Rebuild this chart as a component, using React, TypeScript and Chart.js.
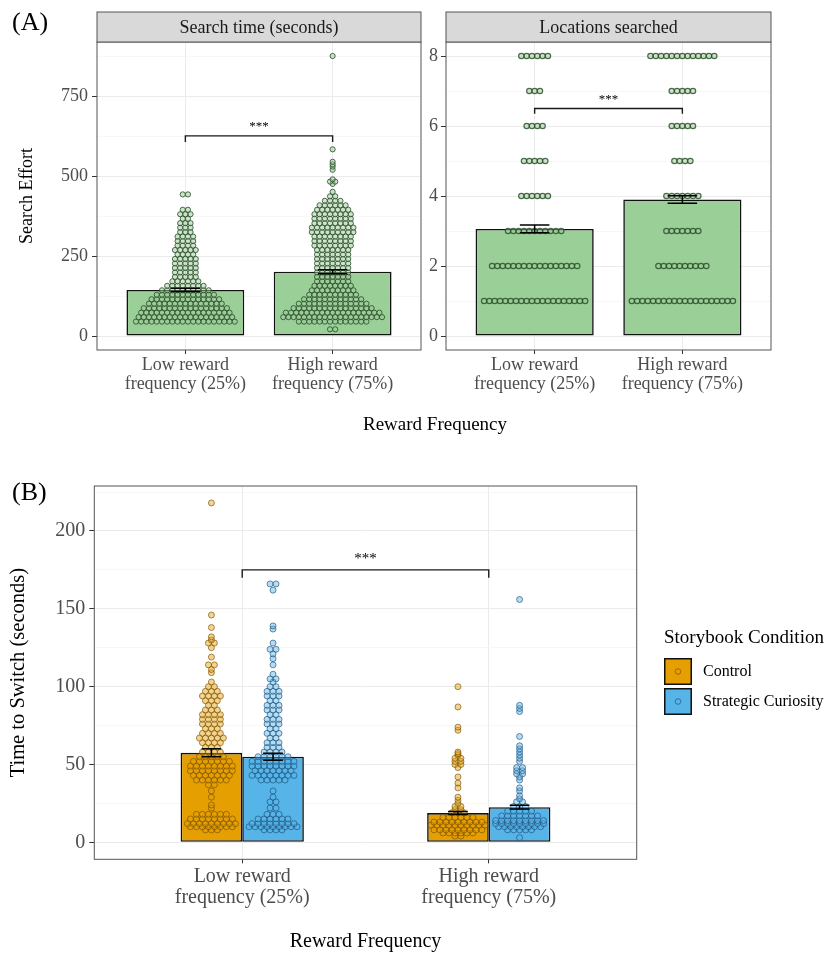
import React, { useEffect, useRef } from "react";
import { Chart, registerables } from "chart.js";

Chart.register(...registerables);

const FONT = "'Liberation Serif', 'Times New Roman', Times, serif";

// ---------------- data ----------------
const rewardCategories = [
  ["Low reward", "frequency (25%)"],
  ["High reward", "frequency (75%)"],
];
const categoryPositions = [1, 2];
const panelATitles = ["Search time (seconds)", "Locations searched"];
const conditionLabels = ["Control", "Strategic Curiosity"];

// Panel A – search time
const searchTimeMeans = [144, 201];
const searchTimeSE = [5, 6];
const searchTimeMajorTicks = [0, 250, 500, 750];
const searchTimeMinorTicks = [125, 375, 625, 875];
const searchTimeRange = [-43.8, 919.8];
const searchTimeBracket = [626, 607];
// beeswarm rows: [value, number of dots]
const searchTimeLowRows: [number, number][] = [
  [45, 20], [59, 19], [73, 18], [87, 17], [101, 15], [115, 14], [129, 12], [143, 10],
  [157, 8], [171, 6], [185, 5], [199, 5], [213, 5], [227, 5], [241, 5], [255, 4],
  [269, 5], [283, 4], [297, 4], [311, 4], [325, 3], [339, 3], [353, 3], [367, 2],
  [381, 3], [395, 2], [443, 2],
];
const searchTimeHighRows: [number, number][] = [
  [21, 2], [45, 14], [59, 20], [73, 19], [87, 16], [101, 14], [115, 12], [129, 10],
  [143, 9], [157, 8], [171, 7], [185, 7], [199, 7], [213, 7], [227, 7], [241, 7],
  [255, 7], [269, 7], [283, 8], [297, 8], [311, 8], [325, 9], [339, 9], [353, 8],
  [367, 8], [381, 8], [395, 7], [409, 6], [423, 4], [437, 2], [451, 1], [476, 1],
  [483, 2], [490, 1], [520, 1], [530, 1], [537, 1], [545, 1], [584, 1], [876, 1],
];

// Panel A – locations searched
const locationsMeans = [3.06, 3.9];
const locationsSE = [0.11, 0.11];
const locationsMajorTicks = [0, 2, 4, 6, 8];
const locationsMinorTicks = [1, 3, 5, 7];
const locationsRange = [-0.4, 8.4];
const locationsBracket = [6.5, 6.35];
const locationsLevels = [1, 2, 3, 4, 5, 6, 7, 8];
const locationsLowCounts = [20, 17, 11, 6, 5, 4, 3, 6];
const locationsHighCounts = [20, 10, 7, 7, 4, 5, 5, 13];

// Panel B – time to switch
const switchControlMeans = [57.5, 18.8];
const switchControlSE = [2.6, 1.0];
const switchCuriosityMeans = [55.0, 22.6];
const switchCuriositySE = [2.3, 1.2];
const switchMajorTicks = [0, 50, 100, 150, 200];
const switchMinorTicks = [25, 75, 125, 175, 225];
const switchRange = [-10.9, 228.9];
const switchBracket = [175, 170];
const switchControlLowRows: [number, number][] = [
  [8, 3], [10, 8], [12, 9], [15, 8], [18, 6], [22, 1], [24, 1], [29, 1], [33, 1], [37, 2],
  [40, 6], [43, 7], [46, 8], [49, 8], [52, 7], [55, 5], [58, 4], [61, 3], [64, 4], [67, 5],
  [70, 4], [73, 3], [76, 4], [79, 4], [82, 4], [85, 3], [88, 2], [91, 3], [94, 4], [97, 3],
  [100, 2], [103, 1], [109, 1], [111, 1], [114, 2], [119, 1], [125, 1], [128, 2], [130, 1],
  [132, 1], [138, 1], [146, 1], [218, 1],
];
const switchCuriosityLowRows: [number, number][] = [
  [8, 4], [10, 9], [12, 8], [15, 6], [18, 3], [22, 2], [26, 2], [29, 1], [33, 1], [40, 5],
  [43, 8], [46, 7], [49, 8], [52, 8], [55, 6], [58, 4], [61, 3], [64, 3], [67, 2], [70, 3],
  [73, 2], [76, 3], [79, 3], [82, 2], [85, 3], [88, 3], [91, 2], [94, 3], [97, 3], [100, 2],
  [103, 1], [105, 2], [108, 1], [114, 1], [118, 1], [121, 1], [124, 2], [128, 1], [137, 1],
  [139, 1], [162, 1], [166, 2],
];
const switchControlHighRows: [number, number][] = [
  [4, 2], [6, 6], [8, 9], [11, 10], [13, 9], [16, 6], [19, 3], [21, 2], [23, 2], [25, 1],
  [27, 1], [29, 1], [35, 1], [38, 1], [42, 1], [48, 1], [50, 2], [52, 2], [54, 2], [56, 1],
  [57, 1], [58, 1], [72, 1], [74, 1], [87, 1], [100, 1],
];
const switchCuriosityHighRows: [number, number][] = [
  [3, 1], [8, 5], [10, 8], [12, 9], [14, 9], [17, 7], [20, 5], [23, 3], [26, 2], [28, 1],
  [30, 1], [33, 1], [35, 1], [40, 1], [42, 1], [44, 2], [46, 2], [48, 2], [52, 1], [54, 1],
  [56, 1], [58, 1], [60, 1], [62, 1], [68, 1], [84, 1], [86, 1], [88, 1], [156, 1],
];

// ---------------- styles ----------------
const GREEN_BAR = "#9BCF98";
const GREEN_DOT_FILL = "rgba(160, 200, 155, 0.5)";
const GREEN_DOT_STROKE = "rgba(35, 75, 35, 0.8)";
const ORANGE = "#E69F00";
const BLUE = "#56B4E9";
const ORANGE_DOT_FILL = "rgba(230, 159, 0, 0.45)";
const ORANGE_DOT_STROKE = "rgba(115, 75, 0, 0.62)";
const BLUE_DOT_FILL = "rgba(86, 180, 233, 0.45)";
const BLUE_DOT_STROKE = "rgba(25, 75, 115, 0.62)";
const TICK_TEXT = "#4D4D4D";

// ---------------- helpers ----------------
function swarm(rows: [number, number][], center: number, spacing: number) {
  const pts: { x: number; y: number }[] = [];
  rows.forEach(([v, n]) => {
    for (let i = 0; i < n; i++) pts.push({ x: center + (i - (n - 1) / 2) * spacing, y: v });
  });
  return pts;
}

function yAxis(o: any) {
  const majors: number[] = o.majors;
  const all = [...o.majors, ...o.minors].sort((a, b) => a - b);
  const isMajor = (c: any) => c && c.tick && majors.includes(c.tick.value);
  return {
    type: "linear",
    min: o.range[0],
    max: o.range[1],
    afterBuildTicks: (s: any) => {
      s.ticks = all.map((v) => ({ value: v }));
    },
    afterFit: (s: any) => {
      s.width = o.width;
    },
    ticks: {
      autoSkip: false,
      padding: o.pad,
      color: TICK_TEXT,
      font: { family: FONT, size: o.fontSize },
      callback: (v: number) => (majors.includes(v) ? String(v) : ""),
    },
    grid: {
      color: (c: any) => (isMajor(c) ? "#EBEBEB" : "#F3F3F3"),
      lineWidth: (c: any) => (isMajor(c) ? 1 : 0.7),
      tickLength: 5,
      tickColor: (c: any) => (isMajor(c) ? "#333333" : "rgba(0,0,0,0)"),
    },
    border: { display: false },
    title: o.title
      ? {
          display: true,
          text: o.title,
          color: "#000",
          font: { family: FONT, size: o.titleSize },
          padding: { top: o.titlePad, bottom: 0 },
        }
      : { display: false },
  };
}

function xAxis(o: any) {
  return {
    type: "linear",
    min: 0.4,
    max: 2.6,
    offset: false,
    afterBuildTicks: (s: any) => {
      s.ticks = categoryPositions.map((v) => ({ value: v }));
    },
    afterFit: (s: any) => {
      s.height = o.height;
    },
    ticks: {
      autoSkip: false,
      maxRotation: 0,
      minRotation: 0,
      padding: o.pad,
      color: TICK_TEXT,
      font: { family: FONT, size: o.fontSize, lineHeight: o.lineHeight },
      callback: (v: number) => rewardCategories[categoryPositions.indexOf(v)],
    },
    grid: { offset: false, color: "#EBEBEB", lineWidth: 1, tickLength: 4, tickColor: "#333333" },
    border: { display: false },
    title: o.title
      ? {
          display: true,
          text: o.title,
          color: "#000",
          font: { family: FONT, size: o.titleSize, lineHeight: 1.1 },
          padding: { top: 0, bottom: 0 },
        }
      : { display: false },
  };
}

const panelBorderPlugin = {
  id: "panelBorder",
  afterDraw(chart: any) {
    const { ctx, chartArea: a } = chart;
    ctx.save();
    ctx.strokeStyle = "#555555";
    ctx.lineWidth = 1;
    ctx.strokeRect(a.left, a.top, a.right - a.left, a.bottom - a.top);
    ctx.restore();
  },
};

function stripPlugin(text: string, top: number) {
  return {
    id: "strip",
    afterDraw(chart: any) {
      const { ctx, chartArea: a } = chart;
      ctx.save();
      ctx.fillStyle = "#D9D9D9";
      ctx.fillRect(a.left, top, a.right - a.left, a.top - top);
      ctx.strokeStyle = "#555555";
      ctx.lineWidth = 1;
      ctx.strokeRect(a.left, top, a.right - a.left, a.top - top);
      ctx.fillStyle = "#1A1A1A";
      ctx.font = `18px ${FONT}`;
      ctx.textAlign = "center";
      ctx.textBaseline = "middle";
      ctx.fillText(text, (a.left + a.right) / 2, (top + a.top) / 2 + 1);
      ctx.restore();
    },
  };
}

function errorBarPlugin(items: { x: number; mean: number; se: number }[], capWidth: number) {
  return {
    id: "errorBars",
    afterDatasetsDraw(chart: any) {
      const { ctx } = chart;
      const xs = chart.scales.x;
      const ys = chart.scales.y;
      ctx.save();
      ctx.strokeStyle = "#000";
      ctx.lineWidth = 1.5;
      items.forEach((it) => {
        const px = xs.getPixelForValue(it.x);
        const half = xs.getPixelForValue(it.x + capWidth / 2) - px;
        const yt = ys.getPixelForValue(it.mean + it.se);
        const yb = ys.getPixelForValue(it.mean - it.se);
        ctx.beginPath();
        ctx.moveTo(px, yt);
        ctx.lineTo(px, yb);
        ctx.moveTo(px - half, yt);
        ctx.lineTo(px + half, yt);
        ctx.moveTo(px - half, yb);
        ctx.lineTo(px + half, yb);
        ctx.stroke();
      });
      ctx.restore();
    },
  };
}

function bracketPlugin(yLine: number, yTick: number, fontSize: number, gap: number) {
  return {
    id: "bracket",
    afterDatasetsDraw(chart: any) {
      const { ctx } = chart;
      const xs = chart.scales.x;
      const ys = chart.scales.y;
      const x1 = xs.getPixelForValue(categoryPositions[0]);
      const x2 = xs.getPixelForValue(categoryPositions[1]);
      const yl = ys.getPixelForValue(yLine);
      const yt = ys.getPixelForValue(yTick);
      ctx.save();
      ctx.strokeStyle = "#1A1A1A";
      ctx.lineWidth = 1.4;
      ctx.beginPath();
      ctx.moveTo(x1, yt);
      ctx.lineTo(x1, yl);
      ctx.lineTo(x2, yl);
      ctx.lineTo(x2, yt);
      ctx.stroke();
      ctx.fillStyle = "#000";
      ctx.font = `${fontSize}px ${FONT}`;
      ctx.textAlign = "center";
      ctx.textBaseline = "alphabetic";
      ctx.fillText("***", (x1 + x2) / 2, yl - gap);
      ctx.restore();
    },
  };
}

const legendPlugin = {
  id: "sideLegend",
  afterDraw(chart: any) {
    const { ctx } = chart;
    const bars = chart.data.datasets.filter((d: any) => d.type === "bar");
    const x0 = 664;
    ctx.save();
    ctx.fillStyle = "#000";
    ctx.font = `19px ${FONT}`;
    ctx.textAlign = "left";
    ctx.textBaseline = "middle";
    ctx.fillText("Storybook Condition", x0, 168);
    bars.forEach((d: any, i: number) => {
      const top = 188 + i * 30;
      ctx.fillStyle = d.backgroundColor;
      ctx.fillRect(x0, top, 28, 27);
      ctx.strokeStyle = "#111";
      ctx.lineWidth = 1.5;
      ctx.strokeRect(x0 + 0.75, top + 0.75, 26.5, 25.5);
      ctx.beginPath();
      ctx.arc(x0 + 14, top + 13.5, 2.8, 0, Math.PI * 2);
      ctx.fillStyle = d.dotFill;
      ctx.fill();
      ctx.strokeStyle = d.dotStroke;
      ctx.lineWidth = 1;
      ctx.stroke();
      ctx.fillStyle = "#000";
      ctx.font = `16px ${FONT}`;
      ctx.fillText(d.label, 703, top + 14);
    });
    ctx.restore();
  },
};

function barData(means: number[], offset: number) {
  return means.map((m, i) => ({ x: categoryPositions[i] + offset, y: m }));
}

function dotDataset(label: string, data: any[], fill: string, stroke: string, r: number, bw = 1) {
  return {
    type: "scatter",
    label,
    data,
    order: 1,
    pointRadius: r,
    pointHoverRadius: r,
    pointBorderWidth: bw,
    backgroundColor: fill,
    borderColor: stroke,
    pointBackgroundColor: fill,
    pointBorderColor: stroke,
  };
}

export default function App() {
  const a1 = useRef<HTMLCanvasElement>(null);
  const a2 = useRef<HTMLCanvasElement>(null);
  const b = useRef<HTMLCanvasElement>(null);

  useEffect(() => {
    const charts: Chart[] = [];
    const common = {
      responsive: false,
      animation: false,
      events: [],
      plugins: { legend: { display: false }, tooltip: { enabled: false } },
    };

    // ---- Panel A, left: search time ----
    const spA = 0.0353;
    charts.push(
      new Chart(a1.current as HTMLCanvasElement, {
        type: "bar",
        data: {
          datasets: [
            {
              type: "bar",
              label: panelATitles[0],
              data: barData(searchTimeMeans, 0),
              backgroundColor: GREEN_BAR,
              borderColor: "#111",
              borderWidth: 1.6,
              borderSkipped: false,
              barPercentage: 0.8,
              categoryPercentage: 1,
              order: 2,
            } as any,
            dotDataset("low", swarm(searchTimeLowRows, categoryPositions[0], spA), GREEN_DOT_FILL, GREEN_DOT_STROKE, 2.6),
            dotDataset("high", swarm(searchTimeHighRows, categoryPositions[1], spA), GREEN_DOT_FILL, GREEN_DOT_STROKE, 2.6),
          ],
        },
        options: {
          ...common,
          layout: { padding: { top: 42, right: 4, bottom: 0, left: 0 } },
          scales: {
            x: xAxis({ height: 90, pad: 1, fontSize: 18, lineHeight: 1.1 }),
            y: yAxis({
              majors: searchTimeMajorTicks,
              minors: searchTimeMinorTicks,
              range: searchTimeRange,
              width: 97,
              pad: 4,
              fontSize: 18,
              title: "Search Effort",
              titleSize: 18,
              titlePad: 16,
            }),
          },
        } as any,
        plugins: [
          panelBorderPlugin,
          stripPlugin(panelATitles[0], 12),
          errorBarPlugin(
            searchTimeMeans.map((m, i) => ({ x: categoryPositions[i], mean: m, se: searchTimeSE[i] })),
            0.2
          ),
          bracketPlugin(searchTimeBracket[0], searchTimeBracket[1], 13, 6),
        ],
      })
    );

    // ---- Panel A, right: locations searched ----
    const spL = 0.036;
    charts.push(
      new Chart(a2.current as HTMLCanvasElement, {
        type: "bar",
        data: {
          datasets: [
            {
              type: "bar",
              label: panelATitles[1],
              data: barData(locationsMeans, 0),
              backgroundColor: GREEN_BAR,
              borderColor: "#111",
              borderWidth: 1.6,
              borderSkipped: false,
              barPercentage: 0.8,
              categoryPercentage: 1,
              order: 2,
            } as any,
            dotDataset(
              "low",
              swarm(locationsLevels.map((l, i) => [l, locationsLowCounts[i]] as [number, number]), categoryPositions[0], spL),
              GREEN_DOT_FILL,
              GREEN_DOT_STROKE,
              2.7,
              1.2
            ),
            dotDataset(
              "high",
              swarm(locationsLevels.map((l, i) => [l, locationsHighCounts[i]] as [number, number]), categoryPositions[1], spL),
              GREEN_DOT_FILL,
              GREEN_DOT_STROKE,
              2.7,
              1.2
            ),
          ],
        },
        options: {
          ...common,
          layout: { padding: { top: 42, right: 65, bottom: 0, left: 0 } },
          scales: {
            x: xAxis({ height: 90, pad: 1, fontSize: 18, lineHeight: 1.1 }),
            y: yAxis({
              majors: locationsMajorTicks,
              minors: locationsMinorTicks,
              range: locationsRange,
              width: 21,
              pad: 3,
              fontSize: 18,
            }),
          },
        } as any,
        plugins: [
          panelBorderPlugin,
          stripPlugin(panelATitles[1], 12),
          errorBarPlugin(
            locationsMeans.map((m, i) => ({ x: categoryPositions[i], mean: m, se: locationsSE[i] })),
            0.2
          ),
          bracketPlugin(locationsBracket[0], locationsBracket[1], 13, 6),
        ],
      })
    );

    // ---- Panel B: time to switch ----
    const spB = 0.0243;
    const dodge = 0.125;
    charts.push(
      new Chart(b.current as HTMLCanvasElement, {
        type: "bar",
        data: {
          datasets: [
            {
              type: "bar",
              label: conditionLabels[0],
              data: barData(switchControlMeans, 0),
              backgroundColor: ORANGE,
              borderColor: "#111",
              borderWidth: 1.6,
              borderSkipped: false,
              barPercentage: 1,
              categoryPercentage: 0.5,
              order: 2,
              dotFill: ORANGE_DOT_FILL,
              dotStroke: ORANGE_DOT_STROKE,
            } as any,
            {
              type: "bar",
              label: conditionLabels[1],
              data: barData(switchCuriosityMeans, 0),
              backgroundColor: BLUE,
              borderColor: "#111",
              borderWidth: 1.6,
              borderSkipped: false,
              barPercentage: 1,
              categoryPercentage: 0.5,
              order: 2,
              dotFill: BLUE_DOT_FILL,
              dotStroke: BLUE_DOT_STROKE,
            } as any,
            dotDataset("c-low", swarm(switchControlLowRows, categoryPositions[0] - dodge, spB), ORANGE_DOT_FILL, ORANGE_DOT_STROKE, 3),
            dotDataset("s-low", swarm(switchCuriosityLowRows, categoryPositions[0] + dodge, spB), BLUE_DOT_FILL, BLUE_DOT_STROKE, 3),
            dotDataset("c-high", swarm(switchControlHighRows, categoryPositions[1] - dodge, spB), ORANGE_DOT_FILL, ORANGE_DOT_STROKE, 3),
            dotDataset("s-high", swarm(switchCuriosityHighRows, categoryPositions[1] + dodge, spB), BLUE_DOT_FILL, BLUE_DOT_STROKE, 3),
          ],
        },
        options: {
          ...common,
          layout: { padding: { top: 14, right: 199.3, bottom: 0, left: 0 } },
          scales: {
            x: xAxis({
              height: 93.7,
              pad: 2.5,
              fontSize: 20,
              lineHeight: 1.07,
              title: "Reward Frequency",
              titleSize: 20,
            }),
            y: yAxis({
              majors: switchMajorTicks,
              minors: switchMinorTicks,
              range: switchRange,
              width: 94.3,
              pad: 4,
              fontSize: 20,
              title: "Time to Switch (seconds)",
              titleSize: 20.5,
              titlePad: 6,
            }),
          },
        } as any,
        plugins: [
          panelBorderPlugin,
          errorBarPlugin(
            [
              ...switchControlMeans.map((m, i) => ({ x: categoryPositions[i] - dodge, mean: m, se: switchControlSE[i] })),
              ...switchCuriosityMeans.map((m, i) => ({ x: categoryPositions[i] + dodge, mean: m, se: switchCuriositySE[i] })),
            ],
            0.08
          ),
          bracketPlugin(switchBracket[0], switchBracket[1], 15, 7),
          legendPlugin,
        ],
      })
    );

    return () => charts.forEach((c) => c.destroy());
  }, []);

  const textStyle: React.CSSProperties = {
    position: "absolute",
    fontFamily: FONT,
    color: "#000",
    whiteSpace: "nowrap",
  };

  return (
    <div style={{ position: "absolute", left: 0, top: 0, width: 836, height: 953, overflow: "hidden", background: "#fff" }}>
      <canvas ref={a1} width={425} height={440} style={{ position: "absolute", left: 0, top: 0 }} />
      <canvas ref={a2} width={411} height={440} style={{ position: "absolute", left: 425, top: 0 }} />
      <canvas ref={b} width={836} height={483} style={{ position: "absolute", left: 0, top: 470 }} />
      <div style={{ ...textStyle, left: 12, top: 8, fontSize: 26, lineHeight: "28px" }}>(A)</div>
      <div style={{ ...textStyle, left: 12, top: 478, fontSize: 26, lineHeight: "28px" }}>(B)</div>
      <div style={{ ...textStyle, left: 335, top: 413, width: 200, textAlign: "center", fontSize: 19, lineHeight: "22px" }}>
        Reward Frequency
      </div>
    </div>
  );
}
